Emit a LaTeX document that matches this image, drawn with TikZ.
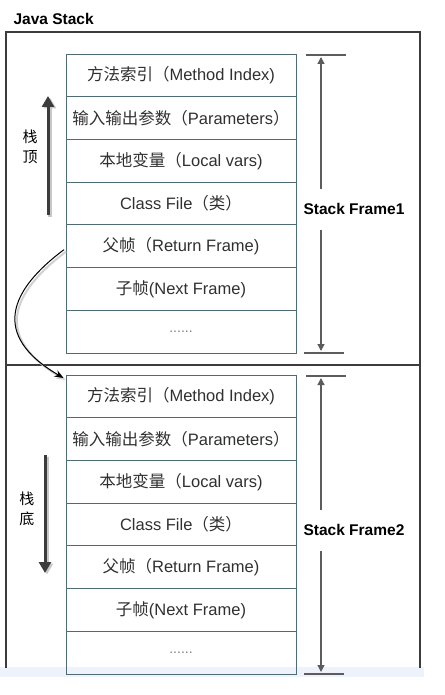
\documentclass[tikz,border=0pt]{standalone}
\usepackage{fontspec}
\setmainfont{Liberation Sans}
\newfontfamily\cjk{Noto Sans CJK SC}
\usetikzlibrary{positioning,arrows.meta}

\definecolor{cellline}{HTML}{4F6B75}
\definecolor{celltext}{HTML}{303030}
\definecolor{framegray}{HTML}{3C3C3C}
\definecolor{bargray}{HTML}{5C5C5C}
\definecolor{bandblue}{HTML}{EEF3FB}

\tikzset{
  cell/.style={draw=cellline, line width=0.8pt, minimum width=230pt, minimum height=42.7pt,
    inner sep=0pt, outer sep=0pt, text=celltext, font=\fontsize{16.5}{19}\selectfont},
  dots/.style={cell, text=black!50, font=\fontsize{14}{17}\selectfont},
  sflabel/.style={font=\bfseries\fontsize{15.5}{18}\selectfont},
  sidelabel/.style={align=center, font=\cjk\fontsize{15}{20}\selectfont},
  bar/.style={draw=bargray, line width=1.5pt},
  rarrow/.style={draw=bargray, line width=1.3pt, -{Triangle[width=7pt,length=7pt]}},
  larrow/.style={draw=framegray, line width=3pt, -{Triangle[width=12pt,length=11pt]},
    preaction={draw=black!22, line width=3.5pt, transform canvas={xshift=2pt,yshift=-1.5pt}}},
  jump/.style={draw=black, line width=1pt, -{Stealth[width=7pt,length=9pt]},
    preaction={draw=black!18, line width=2pt, transform canvas={xshift=2pt,yshift=-2pt}}}
}

\begin{document}
\begin{tikzpicture}[x=1pt,y=-1pt]
  \useasboundingbox (0,0) rectangle (444,695);
  \fill[bandblue] (0,667) rectangle (424,677);

  % outer frame, cut off at the bottom
  \node[sflabel, anchor=west] (title) at (10,19) {Java Stack};
  \draw[framegray, line width=2pt] (6,668) -- (6,32) -- (420,32) -- (420,668);
  \draw[framegray, line width=2.5pt] (6,365) -- (420,365);

  % frame 1
  \node[cell, anchor=north] (meth1) at (181,54) {{\cjk 方法索引（}Method Index)};
  \node[cell, below=0pt of meth1] (para1) {{\cjk 输入输出参数（}Parameters{\cjk ）}};
  \node[cell, below=0pt of para1] (loc1) {{\cjk 本地变量（}Local vars)};
  \node[cell, below=0pt of loc1] (cls1) {Class File{\cjk （类）}};
  \node[cell, below=0pt of cls1] (ret1) {{\cjk 父帧（}Return Frame)};
  \node[cell, below=0pt of ret1] (next1) {{\cjk 子帧}(Next Frame)};
  \node[dots, below=0pt of next1] (more1) {......};

  % frame 2
  \node[cell, anchor=north] (meth2) at (181,375) {{\cjk 方法索引（}Method Index)};
  \node[cell, below=0pt of meth2] (para2) {{\cjk 输入输出参数（}Parameters{\cjk ）}};
  \node[cell, below=0pt of para2] (loc2) {{\cjk 本地变量（}Local vars)};
  \node[cell, below=0pt of loc2] (cls2) {Class File{\cjk （类）}};
  \node[cell, below=0pt of cls2] (ret2) {{\cjk 父帧（}Return Frame)};
  \node[cell, below=0pt of ret2] (next2) {{\cjk 子帧}(Next Frame)};
  \node[dots, below=0pt of next2] (more2) {......};

  % return frame points to the frame below
  \draw[jump] ([xshift=-2pt,yshift=-3.5pt]ret1.west) .. controls (10,290) and (-10,335) .. ([xshift=-2.5pt,yshift=-3pt]meth2.north west);

  % stack top / stack bottom
  \node[sidelabel] (top) at (30,147) {栈\\顶};
  \coordinate (topS) at (48,215); \coordinate (topE) at (48,96);
  \draw[larrow] (topS) -- (topE);
  \node[sidelabel] (bottom) at (27,509) {栈\\底};
  \coordinate (botS) at (45,455); \coordinate (botE) at (45,573);
  \draw[larrow] (botS) -- (botE);

  % size of frame 1
  \coordinate (bar1a) at (306,55); \coordinate (bar1b) at (346,55);
  \coordinate (bar1c) at (304,353); \coordinate (bar1d) at (344,353);
  \draw[bar] (bar1a) -- (bar1b); \draw[bar] (bar1c) -- (bar1d);
  \node[sflabel] (sf1) at (354,209) {Stack Frame1};
  \coordinate (up1s) at (321,189); \coordinate (up1e) at (321,57);
  \coordinate (dn1s) at (321,230); \coordinate (dn1e) at (321,351);
  \draw[rarrow] (up1s) -- (up1e); \draw[rarrow] (dn1s) -- (dn1e);

  % size of frame 2
  \coordinate (bar2a) at (306,376); \coordinate (bar2b) at (346,376);
  \coordinate (bar2c) at (304,674); \coordinate (bar2d) at (344,674);
  \draw[bar] (bar2a) -- (bar2b); \draw[bar] (bar2c) -- (bar2d);
  \node[sflabel] (sf2) at (354,530) {Stack Frame2};
  \coordinate (up2s) at (321,510); \coordinate (up2e) at (321,378);
  \coordinate (dn2s) at (321,551); \coordinate (dn2e) at (321,672);
  \draw[rarrow] (up2s) -- (up2e); \draw[rarrow] (dn2s) -- (dn2e);

\end{tikzpicture}
\end{document}
